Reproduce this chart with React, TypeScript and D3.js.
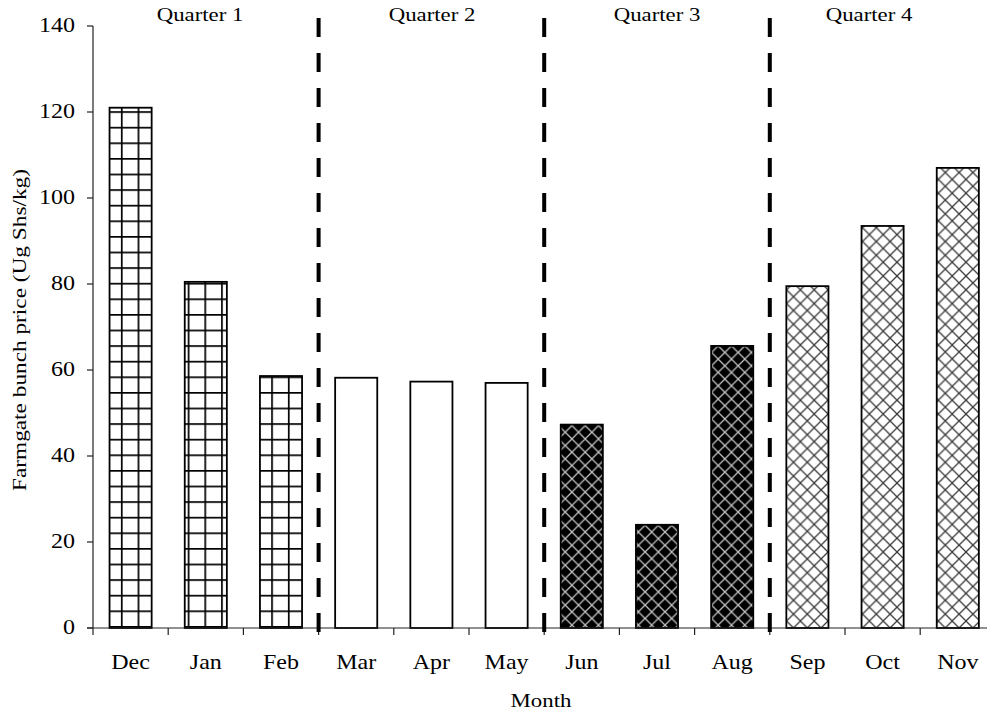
import React from "react";
import * as d3 from "d3";

// Monthly farmgate bunch prices (Ug Shs/kg)
const months = ["Dec", "Jan", "Feb", "Mar", "Apr", "May", "Jun", "Jul", "Aug", "Sep", "Oct", "Nov"];
const prices = [121, 80.5, 58.6, 58.2, 57.3, 57.0, 47.3, 24.0, 65.6, 79.5, 93.5, 107];
const quarterOfMonth = [0, 0, 0, 1, 1, 1, 2, 2, 2, 3, 3, 3];
const quarterLabels = ["Quarter 1", "Quarter 2", "Quarter 3", "Quarter 4"];
const quarterLabelX = [200, 432, 657, 869];
const yTicks = [0, 20, 40, 60, 80, 100, 120, 140];

const W = 987;
const H = 713;
const FONT = "'Liberation Serif', 'Times New Roman', serif";
const STRETCH = 1.2;

const quarterFills = ["url(#q1grid)", "#ffffff", "url(#q3hatch)", "url(#q4hatch)"];

function Label({
  x,
  y,
  anchor = "middle",
  size = 20,
  children,
}: {
  x: number;
  y: number;
  anchor?: string;
  size?: number;
  children: React.ReactNode;
}) {
  return (
    <text
      transform={`translate(${x},${y}) scale(${STRETCH},1)`}
      textAnchor={anchor}
      fontSize={size}
      fill="#000"
    >
      {children}
    </text>
  );
}

export default function App() {
  const left = 93;
  const step = 75.2;
  const x = d3
    .scaleBand<string>()
    .domain(months)
    .range([left, left + step * months.length])
    .paddingInner(0.44)
    .paddingOuter(0.22);
  const y = d3.scaleLinear().domain([0, 140]).range([628, 26]);
  const y0 = y(0);

  const boundary = (i: number) => left + step * i;

  return (
    <svg
      width={W}
      height={H}
      style={{ position: "absolute", left: 0, top: 0, background: "#fff" }}
      fontFamily={FONT}
    >
      <defs>
        <pattern id="q1grid" patternUnits="userSpaceOnUse" width={16.7} height={15.6} x={4} y={2}>
          <rect width={16.7} height={15.6} fill="#fff" />
          <line x1={0.8} y1={0} x2={0.8} y2={15.6} stroke="#000" strokeWidth={1.8} />
          <line x1={0} y1={0.8} x2={16.7} y2={0.8} stroke="#000" strokeWidth={1.8} />
        </pattern>
        <pattern id="q3hatch" patternUnits="userSpaceOnUse" width={13.3} height={13.3}>
          <rect width={13.3} height={13.3} fill="#000" />
          <path d="M-1,-1 L14.3,14.3 M14.3,-1 L-1,14.3" stroke="#c4c4c4" strokeWidth={1.3} />
        </pattern>
        <pattern id="q4hatch" patternUnits="userSpaceOnUse" width={13.8} height={13.8}>
          <rect width={13.8} height={13.8} fill="#fff" />
          <path d="M-1,-1 L14.8,14.8 M14.8,-1 L-1,14.8" stroke="#3a3a3a" strokeWidth={1.3} />
        </pattern>
      </defs>

      {/* bars */}
      {months.map((m, i) => (
        <rect
          key={m}
          x={x(m)!}
          y={y(prices[i])}
          width={x.bandwidth()}
          height={y0 - y(prices[i])}
          fill={quarterFills[quarterOfMonth[i]]}
          stroke="#000"
          strokeWidth={1.8}
        />
      ))}

      {/* y axis */}
      <line x1={left} y1={y(140)} x2={left} y2={y0} stroke="#222" strokeWidth={1.2} />
      {yTicks.map((t) => (
        <g key={t}>
          <line x1={left - 6} y1={y(t)} x2={left} y2={y(t)} stroke="#222" strokeWidth={1.2} />
          <Label x={left - 18} y={y(t) + 6} anchor="end">
            {t}
          </Label>
        </g>
      ))}

      {/* x axis */}
      <line x1={left - 6} y1={y0} x2={W} y2={y0} stroke="#222" strokeWidth={1.2} />
      {d3.range(months.length + 1).map((i) => (
        <line key={i} x1={boundary(i)} y1={y0} x2={boundary(i)} y2={y0 + 7} stroke="#222" strokeWidth={1.2} />
      ))}
      {months.map((m) => (
        <Label key={m} x={x(m)! + x.bandwidth() / 2} y={669}>
          {m}
        </Label>
      ))}

      {/* quarter dividers */}
      {[3, 6, 9].map((i) => (
        <line
          key={i}
          x1={boundary(i)}
          y1={18}
          x2={boundary(i)}
          y2={634}
          stroke="#000"
          strokeWidth={4}
          strokeDasharray="19 16"
        />
      ))}

      {/* quarter labels */}
      {quarterLabels.map((q, k) => (
        <Label key={q} x={quarterLabelX[k]} y={21} size={19}>
          {q}
        </Label>
      ))}

      {/* axis titles */}
      <Label x={541} y={707} size={19}>
        Month
      </Label>
      <text
        transform="translate(26, 330) rotate(-90)"
        textAnchor="middle"
        fontSize={19}
        fill="#000"
        textLength={322}
        lengthAdjust="spacingAndGlyphs"
      >
        Farmgate bunch price (Ug Shs/kg)
      </text>
    </svg>
  );
}
